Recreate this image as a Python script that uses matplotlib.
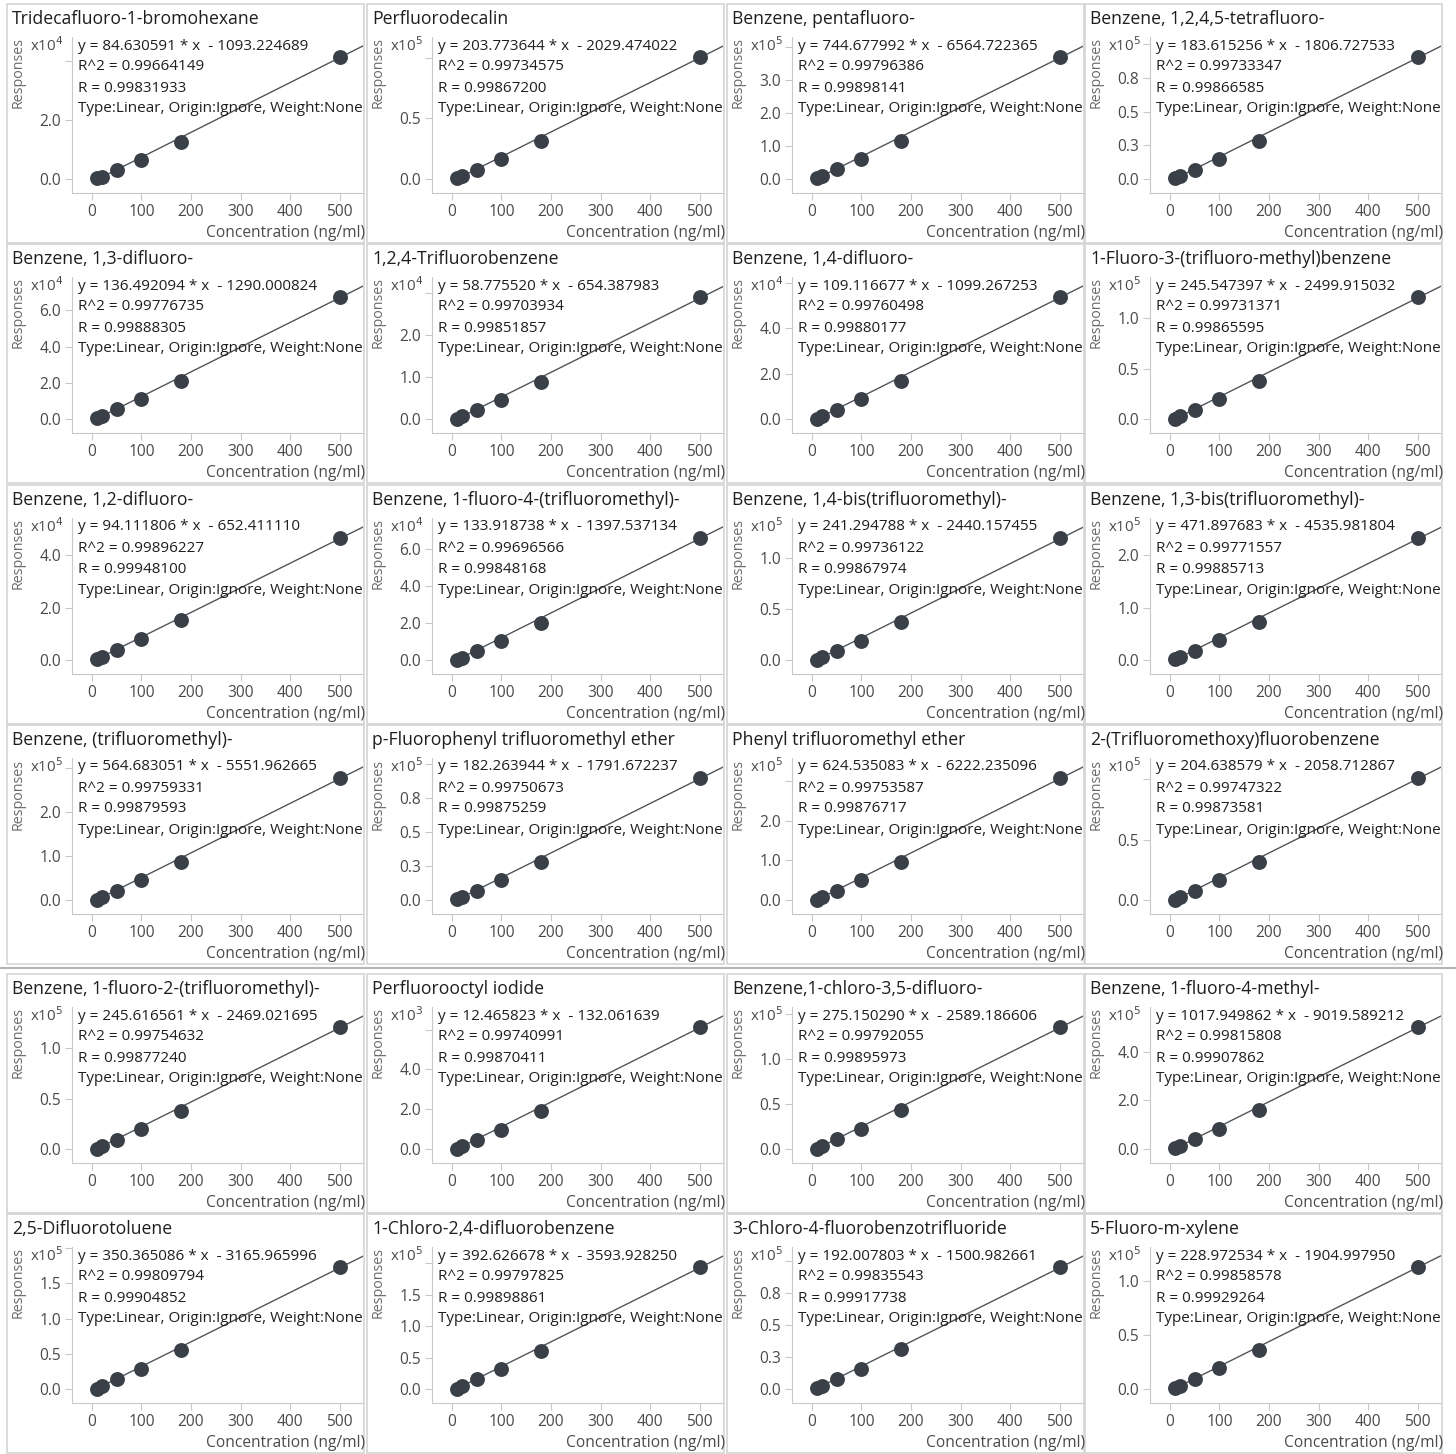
import numpy as np
import matplotlib.pyplot as plt
from matplotlib.patches import Rectangle
from matplotlib.lines import Line2D

plt.rcParams['font.family'] = ['Open Sans', 'DejaVu Sans']

W, H = 1456, 1454

# calibration data, one entry per compound
names = [
    'Tridecafluoro-1-bromohexane', 'Perfluorodecalin', 'Benzene, pentafluoro-',
    'Benzene, 1,2,4,5-tetrafluoro-',
    'Benzene, 1,3-difluoro-', '1,2,4-Trifluorobenzene', 'Benzene, 1,4-difluoro-',
    '1-Fluoro-3-(trifluoro-methyl)benzene',
    'Benzene, 1,2-difluoro-', 'Benzene, 1-fluoro-4-(trifluoromethyl)-',
    'Benzene, 1,4-bis(trifluoromethyl)-', 'Benzene, 1,3-bis(trifluoromethyl)-',
    'Benzene, (trifluoromethyl)-', 'p-Fluorophenyl trifluoromethyl ether',
    'Phenyl trifluoromethyl ether', '2-(Trifluoromethoxy)fluorobenzene',
    'Benzene, 1-fluoro-2-(trifluoromethyl)-', 'Perfluorooctyl iodide',
    'Benzene,1-chloro-3,5-difluoro-', 'Benzene, 1-fluoro-4-methyl-',
    '2,5-Difluorotoluene', '1-Chloro-2,4-difluorobenzene',
    '3-Chloro-4-fluorobenzotrifluoride', '5-Fluoro-m-xylene',
]
slopes = [84.630591, 203.773644, 744.677992, 183.615256,
          136.492094, 58.775520, 109.116677, 245.547397,
          94.111806, 133.918738, 241.294788, 471.897683,
          564.683051, 182.263944, 624.535083, 204.638579,
          245.616561, 12.465823, 275.150290, 1017.949862,
          350.365086, 392.626678, 192.007803, 228.972534]
intercepts = [-1093.224689, -2029.474022, -6564.722365, -1806.727533,
              -1290.000824, -654.387983, -1099.267253, -2499.915032,
              -652.411110, -1397.537134, -2440.157455, -4535.981804,
              -5551.962665, -1791.672237, -6222.235096, -2058.712867,
              -2469.021695, -132.061639, -2589.186606, -9019.589212,
              -3165.965996, -3593.928250, -1500.982661, -1904.997950]
r2 = [0.99664149, 0.99734575, 0.99796386, 0.99733347,
      0.99776735, 0.99703934, 0.99760498, 0.99731371,
      0.99896227, 0.99696566, 0.99736122, 0.99771557,
      0.99759331, 0.99750673, 0.99753587, 0.99747322,
      0.99754632, 0.99740991, 0.99792055, 0.99815808,
      0.99809794, 0.99797825, 0.99835543, 0.99858578]
r = [0.99831933, 0.99867200, 0.99898141, 0.99866585,
     0.99888305, 0.99851857, 0.99880177, 0.99865595,
     0.99948100, 0.99848168, 0.99867974, 0.99885713,
     0.99879593, 0.99875259, 0.99876717, 0.99873581,
     0.99877240, 0.99870411, 0.99895973, 0.99907862,
     0.99904852, 0.99898861, 0.99917738, 0.99929264]
exponents = [4, 5, 5, 5,
             4, 4, 4, 5,
             4, 4, 5, 5,
             5, 5, 5, 5,
             5, 3, 5, 5,
             5, 5, 5, 5]

conc = [10, 20, 50, 100, 180, 500]
# responses in units of 10^exponent
responses = [
    [0.02, 0.08, 0.30, 0.65, 1.27, 4.14],
    [0.005, 0.025, 0.078, 0.162, 0.315, 1.004],
    [0.02, 0.09, 0.29, 0.60, 1.16, 3.68],
    [0.004, 0.022, 0.070, 0.146, 0.284, 0.905],
    [0.03, 0.16, 0.53, 1.09, 2.12, 6.73],
    [0.01, 0.06, 0.22, 0.44, 0.89, 2.90],
    [0.01, 0.12, 0.41, 0.86, 1.69, 5.37],
    [0.004, 0.026, 0.093, 0.194, 0.38, 1.21],
    [0.04, 0.13, 0.39, 0.80, 1.54, 4.66],
    [0.01, 0.13, 0.48, 1.02, 2.00, 6.58],
    [0.004, 0.025, 0.091, 0.19, 0.373, 1.19],
    [0.01, 0.05, 0.18, 0.38, 0.73, 2.33],
    [0.01, 0.06, 0.215, 0.45, 0.875, 2.78],
    [0.004, 0.021, 0.069, 0.145, 0.283, 0.898],
    [0.01, 0.065, 0.238, 0.495, 0.966, 3.075],
    [0.004, 0.022, 0.078, 0.162, 0.316, 1.008],
    [0.004, 0.026, 0.093, 0.194, 0.38, 1.21],
    [0.02, 0.13, 0.47, 0.98, 1.92, 6.13],
    [0.004, 0.031, 0.106, 0.22, 0.43, 1.357],
    [0.02, 0.12, 0.41, 0.82, 1.59, 5.02],
    [0.006, 0.04, 0.137, 0.285, 0.55, 1.73],
    [0.006, 0.045, 0.152, 0.314, 0.61, 1.937],
    [0.006, 0.024, 0.078, 0.158, 0.31, 0.95],
    [0.006, 0.028, 0.092, 0.19, 0.365, 1.128],
]

tick_steps = [2.0, 0.5, 1.0, 0.25,
              2.0, 1.0, 2.0, 0.5,
              2.0, 2.0, 0.5, 1.0,
              1.0, 0.25, 1.0, 0.5,
              0.5, 2.0, 0.5, 2.0,
              0.5, 0.5, 0.25, 0.5]
tick_labels = [
    ['0.0', '2.0', ''], ['0.0', '0.5', ''], ['0.0', '1.0', '2.0', '3.0', ''],
    ['0.0', '0.3', '0.5', '0.8', ''],
    ['0.0', '2.0', '4.0', '6.0'], ['0.0', '1.0', '2.0', ''], ['0.0', '2.0', '4.0', ''],
    ['0.0', '0.5', '1.0'],
    ['0.0', '2.0', '4.0'], ['0.0', '2.0', '4.0', '6.0'], ['0.0', '0.5', '1.0'],
    ['0.0', '1.0', '2.0'],
    ['0.0', '1.0', '2.0', ''], ['0.0', '0.3', '0.5', '0.8', ''], ['0.0', '1.0', '2.0', ''],
    ['0.0', '0.5', ''],
    ['0.0', '0.5', '1.0'], ['0.0', '2.0', '4.0', ''], ['0.0', '0.5', '1.0', ''],
    ['0.0', '2.0', '4.0'],
    ['0.0', '0.5', '1.0', '1.5', ''], ['0.0', '0.5', '1.0', '1.5', ''],
    ['0.0', '0.3', '0.5', '0.8', ''], ['0.0', '0.5', '1.0'],
]

col_x = [0, 360, 720, 1078]
row_y = [1, 241, 482, 722, 971, 1211]


def fx(px):
    return px / W


def fy(py):
    return 1 - py / H


fig = plt.figure(figsize=(W / 100, H / 100), dpi=100)
fig.patch.set_facecolor('white')

for i, name in enumerate(names):
    rr, cc = divmod(i, 4)
    x0, y0 = col_x[cc], row_y[rr]

    fig.add_artist(Rectangle((fx(x0 + 7), fy(y0 + 242)), 357 / W, 239 / H,
                             transform=fig.transFigure, fill=False,
                             edgecolor='#d4d4d4', lw=1.2))

    ax = fig.add_axes([fx(x0 + 72), fy(y0 + 192), 291 / W, 156 / H])
    ys = responses[i]
    scale = 10.0 ** exponents[i]
    ymax = max(ys)

    xl = np.array([conc[0], 560.0])
    ax.plot(xl, (slopes[i] * xl + intercepts[i]) / scale, color='#50555b', lw=1.0, zorder=2)
    ax.scatter(conc, ys, s=115, color='#3a4047', zorder=3, linewidths=0)

    ax.set_xlim(-40, 547)
    ax.set_ylim(-0.115 * ymax, 1.165 * ymax)
    ax.set_xticks([0, 100, 200, 300, 400, 500])
    yt = [k * tick_steps[i] for k in range(len(tick_labels[i]))]
    ax.set_yticks(yt)
    ax.set_yticklabels(tick_labels[i])

    for s in ['top', 'right']:
        ax.spines[s].set_visible(False)
    for s in ['left', 'bottom']:
        ax.spines[s].set_color('#c8c8c8')
    ax.tick_params(direction='out', length=5, color='#c8c8c8', labelsize=11.2,
                   labelcolor='#4a4a4a', pad=3)

    fig.text(fx(x0 + 12), fy(y0 + 18), name, fontsize=12.7, color='#1e1e1e',
             ha='left', va='center')
    fig.text(fx(x0 + 63), fy(y0 + 45), 'x10$^{%d}$' % exponents[i], fontsize=10.8,
             color='#4a4a4a', ha='right', va='center')
    fig.text(fx(x0 + 18), fy(y0 + 72), 'Responses', fontsize=10.3, color='#6a6a6a',
             rotation=90, ha='center', va='center')
    fig.text(fx(x0 + 365), fy(y0 + 232), 'Concentration (ng/ml)', fontsize=11.2,
             color='#4a4a4a', ha='right', va='center')

    lines = ['y = %.6f * x  - %.6f' % (slopes[i], -intercepts[i]),
             'R^2 = %.8f' % r2[i],
             'R = %.8f' % r[i],
             'Type:Linear, Origin:Ignore, Weight:None']
    for k, t in enumerate(lines):
        fig.text(fx(x0 + 78), fy(y0 + 45 + 21 * k), t, fontsize=10.95,
                 color='#1e1e1e', ha='left', va='center')

# darker separator between the fourth and fifth rows
fig.add_artist(Line2D([fx(0), fx(W)], [fy(968), fy(968)], transform=fig.transFigure,
                      color='#b4b4b4', lw=1.5))

fig.savefig('out.png', dpi=100)
